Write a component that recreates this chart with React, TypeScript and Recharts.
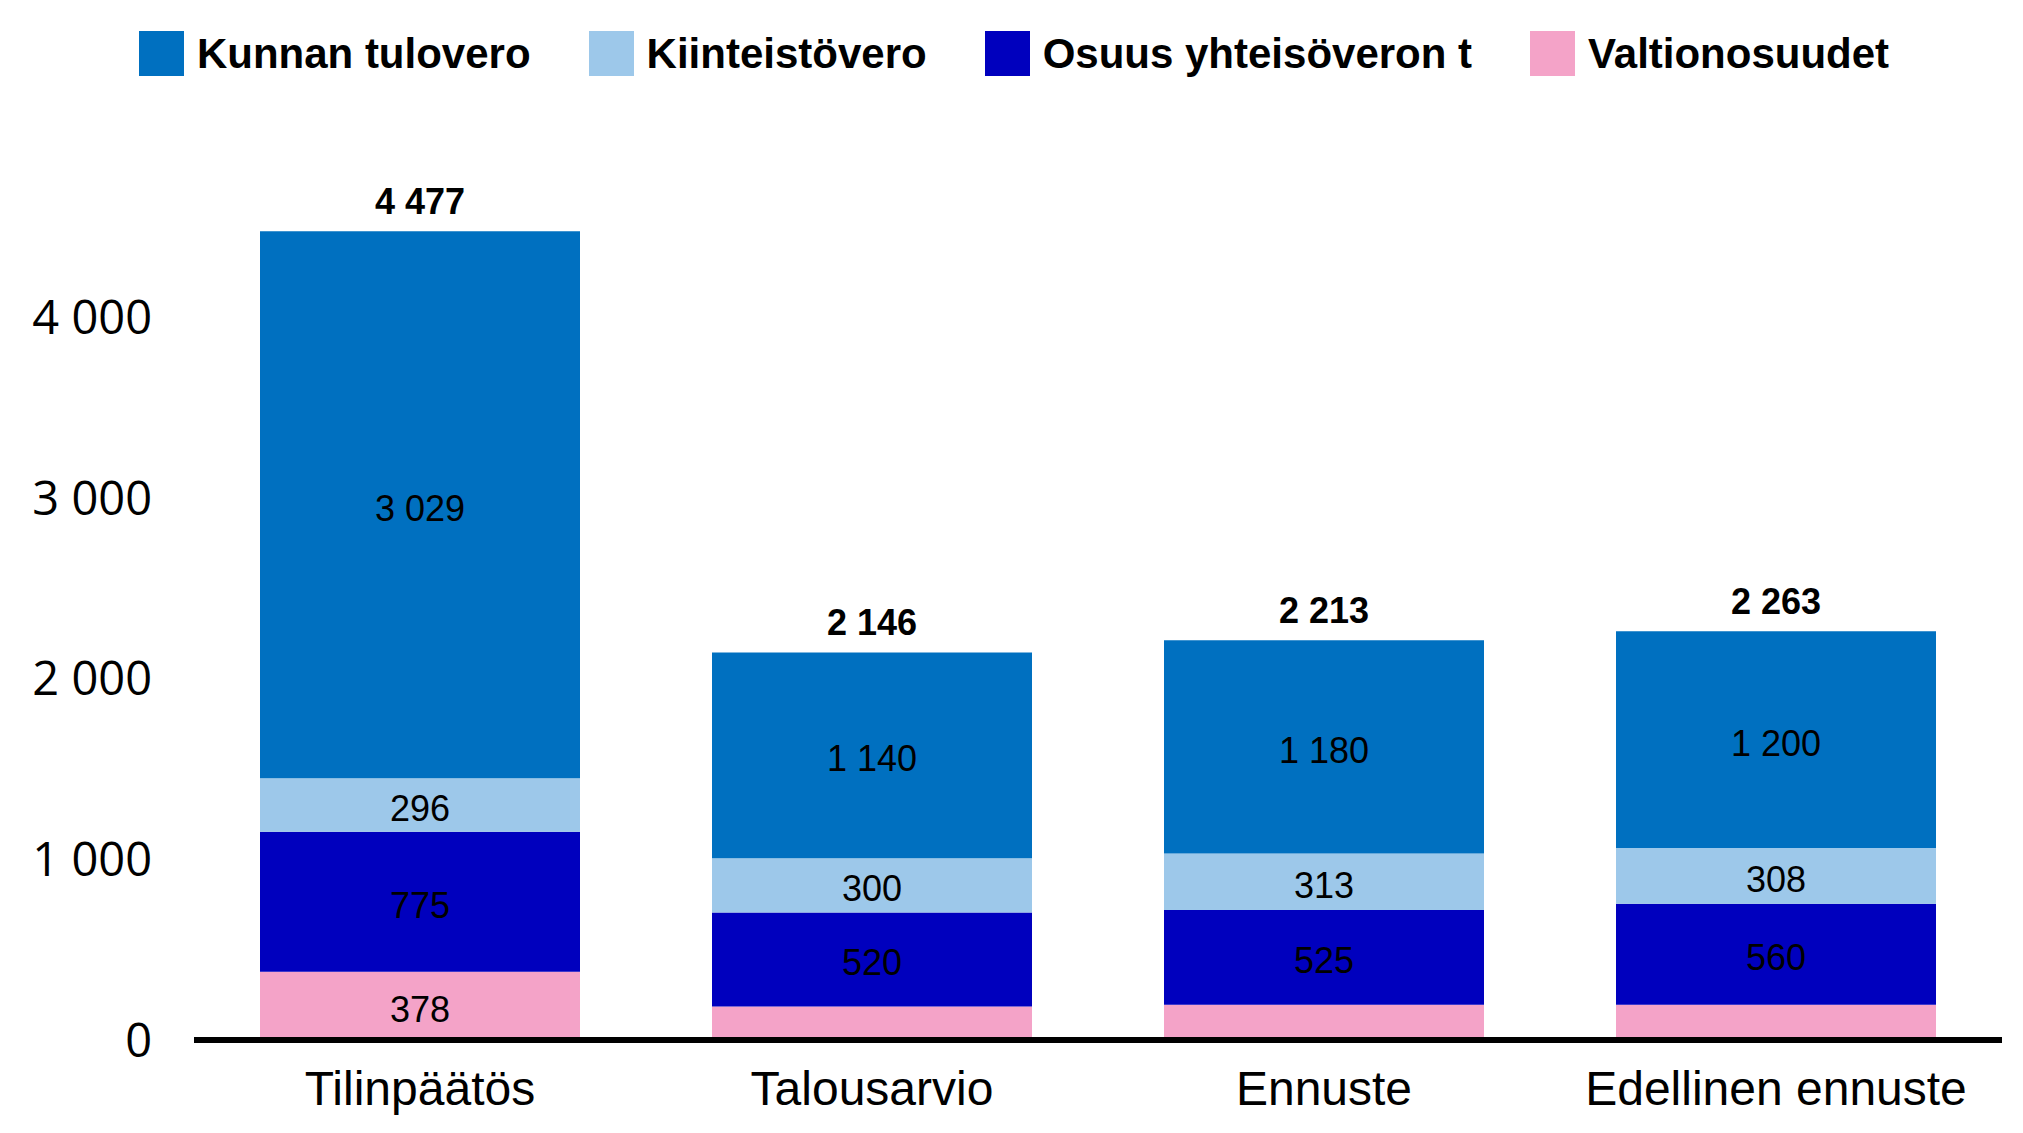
import { BarChart, Bar, XAxis, YAxis, Legend, LabelList } from 'recharts';

const categories = ['Tilinpäätös', 'Talousarvio', 'Ennuste', 'Edellinen ennuste'];
const valtionosuudet = [378, 186, 195, 195];
const osuusYhteisoverosta = [775, 520, 525, 560];
const kiinteistovero = [296, 300, 313, 308];
const kunnanTulovero = [3029, 1140, 1180, 1200];
const totals = [4477, 2146, 2213, 2263];
const yTicks = [0, 1000, 2000, 3000, 4000];

const SERIES = [
  { key: 'kunnan', name: 'Kunnan tulovero', color: '#0070C0' },
  { key: 'kiint', name: 'Kiinteistövero', color: '#9DC8EA' },
  { key: 'osuus', name: 'Osuus yhteisöveron t', color: '#0000BE' },
  { key: 'valtio', name: 'Valtionosuudet', color: '#F4A3C8' },
];

const data = categories.map((name, i) => ({
  name,
  valtio: valtionosuudet[i],
  osuus: osuusYhteisoverosta[i],
  kiint: kiinteistovero[i],
  kunnan: kunnanTulovero[i],
  total: totals[i],
}));

const fmt = (v: number) => String(v).replace(/\B(?=(\d{3})+(?!\d))/g, ' ');

const FONT = '"Liberation Sans", Arial, sans-serif';

// segment value inside the bar, small segments stay unlabeled
const innerLabel = (props: any) => {
  const { x, y, width, height, value } = props;
  if (value < 250) return null;
  return (
    <text
      x={x + width / 2}
      y={y + height / 2}
      dy={16}
      textAnchor="middle"
      fontFamily={FONT}
      fontSize={36}
      fill="#000"
    >
      {fmt(value)}
    </text>
  );
};

const totalLabel = (props: any) => {
  const { x, y, width, value } = props;
  return (
    <text
      x={x + width / 2}
      y={y - 17}
      textAnchor="middle"
      fontFamily={FONT}
      fontSize={36}
      fontWeight="bold"
      fill="#000"
    >
      {fmt(value)}
    </text>
  );
};

const renderLegend = () => (
  <div
    style={{
      height: 137,
      display: 'flex',
      justifyContent: 'center',
      alignItems: 'flex-start',
      paddingTop: 31,
      paddingLeft: 26,
      boxSizing: 'border-box',
    }}
  >
    {SERIES.map((s, i) => (
      <div
        key={s.key}
        style={{
          display: 'flex',
          alignItems: 'center',
          marginRight: i < SERIES.length - 1 ? 58 : 0,
        }}
      >
        <span style={{ width: 45, height: 45, background: s.color, marginRight: 13, display: 'inline-block' }} />
        <span style={{ fontFamily: FONT, fontSize: 42, fontWeight: 'bold', color: '#000', lineHeight: '45px' }}>
          {s.name}
        </span>
      </div>
    ))}
  </div>
);

export default function App() {
  return (
    <div style={{ position: 'absolute', left: 0, top: 0, width: 2023, height: 1133, background: '#fff' }}>
      <BarChart
        width={2023}
        height={1133}
        data={data}
        margin={{ top: 0, right: 21, left: 0, bottom: 0 }}
      >
        <Legend verticalAlign="top" align="center" content={renderLegend} />
        <XAxis
          dataKey="name"
          interval={0}
          height={93}
          tickLine={false}
          tickSize={0}
          tickMargin={31}
          axisLine={{ stroke: '#000', strokeWidth: 6 }}
          tick={{ fill: '#000', fontSize: 48, fontFamily: FONT }}
        />
        <YAxis
          width={194}
          domain={[0, 5000]}
          ticks={yTicks}
          tickFormatter={fmt}
          axisLine={false}
          tickLine={false}
          tickSize={0}
          tickMargin={42}
          tick={{ fill: '#000', fontSize: 47, fontFamily: '"Open Sans", sans-serif' }}
        />
        <Bar dataKey="valtio" stackId="a" fill="#F4A3C8" barSize={320} isAnimationActive={false}>
          <LabelList dataKey="valtio" content={innerLabel} />
        </Bar>
        <Bar dataKey="osuus" stackId="a" fill="#0000BE" barSize={320} isAnimationActive={false}>
          <LabelList dataKey="osuus" content={innerLabel} />
        </Bar>
        <Bar dataKey="kiint" stackId="a" fill="#9DC8EA" barSize={320} isAnimationActive={false}>
          <LabelList dataKey="kiint" content={innerLabel} />
        </Bar>
        <Bar dataKey="kunnan" stackId="a" fill="#0070C0" barSize={320} isAnimationActive={false}>
          <LabelList dataKey="kunnan" content={innerLabel} />
          <LabelList dataKey="total" content={totalLabel} />
        </Bar>
      </BarChart>
    </div>
  );
}
